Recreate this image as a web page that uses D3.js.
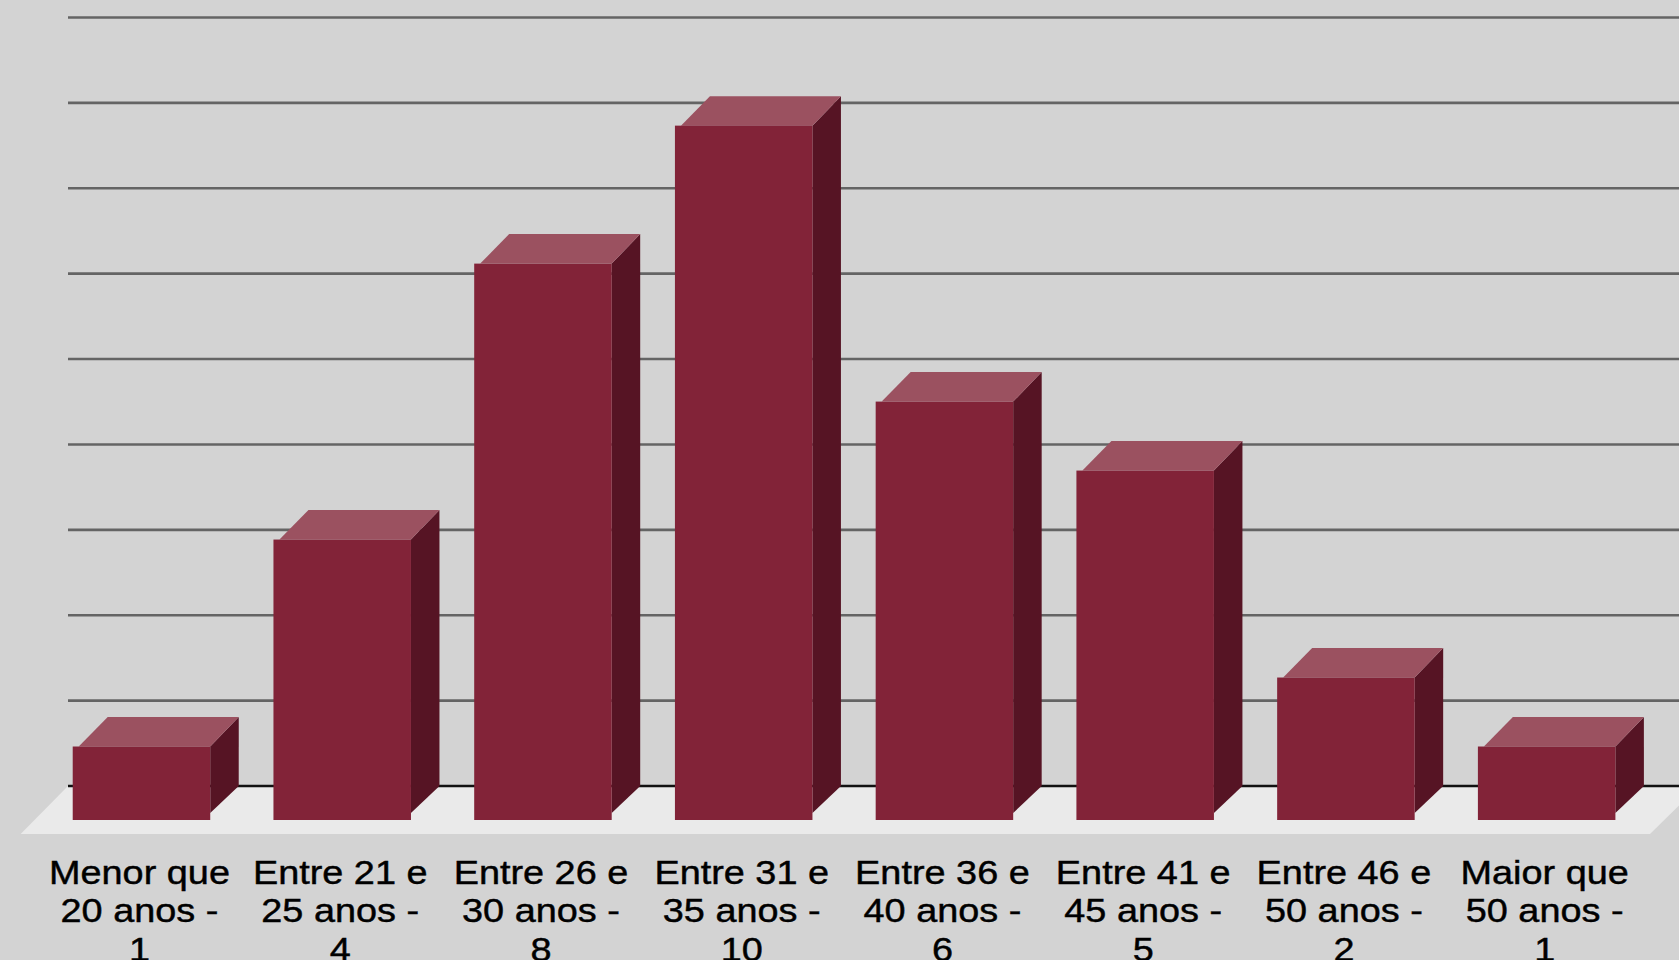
<!DOCTYPE html>
<html>
<head>
<meta charset="utf-8">
<script src="https://cdn.jsdelivr.net/npm/d3@7"></script>
<style>
  html, body { margin: 0; padding: 0; background: #d3d3d3; overflow: hidden; }
  svg { display: block; }
</style>
</head>
<body>
<svg id="chart" width="1679" height="960"></svg>
<script>
// ---- data ----
const categories = [
  ["Menor que", "20 anos -", "1"],
  ["Entre 21 e", "25 anos -", "4"],
  ["Entre 26 e", "30 anos -", "8"],
  ["Entre 31 e", "35 anos -", "10"],
  ["Entre 36 e", "40 anos -", "6"],
  ["Entre 41 e", "45 anos -", "5"],
  ["Entre 46 e", "50 anos -", "2"],
  ["Maior que", "50 anos -", "1"]
];
const values = [1, 4, 8, 10, 6, 5, 2, 1];
const yMax = 11.14;
const gridCount = 9;

// ---- layout ----
const W = 1679, H = 960;
const svg = d3.select("#chart");
const baseY = 786, topY = 17.5, gridX0 = 68;
const depthTopDy = 29.5;      // front top offset below back top
const frontBottom = 820;
const sideBottom = 813;
const backLeftDx = 35, backRightDx = 28.5, topLeftInset = 6;

const x = d3.scaleBand()
  .domain(d3.range(values.length))
  .range([41.1, 41.1 + 8 * 200.74])
  .paddingInner(0.315)
  .paddingOuter(0.1575);

const y = d3.scaleLinear().domain([0, yMax]).range([baseY, topY]);

svg.append("rect").attr("width", W).attr("height", H).attr("fill", "#d3d3d3");

// gridlines
const gridVals = d3.range(1, gridCount + 1).map(i => i * yMax / gridCount);
svg.append("g").selectAll("line").data(gridVals).join("line")
  .attr("x1", gridX0).attr("x2", W)
  .attr("y1", d => y(d)).attr("y2", d => y(d))
  .attr("stroke", "#646464").attr("stroke-width", 2.6);

// floor
svg.append("path")
  .attr("d", `M${gridX0},${baseY} L${W + 20},${baseY} L1650,834 L20.7,834 Z`)
  .attr("fill", "#eaeaea");

// baseline
svg.append("line")
  .attr("x1", gridX0).attr("x2", W).attr("y1", baseY).attr("y2", baseY)
  .attr("stroke", "#111").attr("stroke-width", 2.4);

// bars
const bars = svg.append("g").selectAll("g").data(values).join("g");
bars.each(function(v, i) {
  const g = d3.select(this);
  const fl = x(i), fr = x(i) + x.bandwidth();
  const bt = y(v), ft = y(v) + depthTopDy;
  const bl = fl + backLeftDx, br = fr + backRightDx;
  // side
  g.append("path")
    .attr("d", `M${fr},${ft} L${br},${bt} L${br},${baseY} L${fr},${sideBottom} Z`)
    .attr("fill", "#561424");
  // top
  g.append("path")
    .attr("d", `M${fl + topLeftInset},${ft} L${bl},${bt} L${br},${bt} L${fr},${ft} Z`)
    .attr("fill", "#9b5160");
  // front
  g.append("rect")
    .attr("x", fl).attr("y", ft)
    .attr("width", x.bandwidth()).attr("height", frontBottom - ft)
    .attr("fill", "#822338");
});

// labels
const labels = svg.append("g").selectAll("g").data(categories).join("g")
  .attr("transform", (d, i) => `translate(${x(i) + x.bandwidth() / 2 - 2},0)`);
labels.each(function(lines) {
  const g = d3.select(this);
  lines.forEach((t, j) => {
    g.append("text")
      .attr("transform", `translate(0,${884 + j * 38.3}) scale(1.13,1)`)
      .attr("text-anchor", "middle")
      .attr("font-family", "Liberation Sans, Arial, sans-serif")
      .attr("font-size", 33.5)
      .attr("fill", "#000")
      .attr("stroke", "#000")
      .attr("stroke-width", 0.45)
      .text(t);
  });
});
</script>
</body>
</html>
